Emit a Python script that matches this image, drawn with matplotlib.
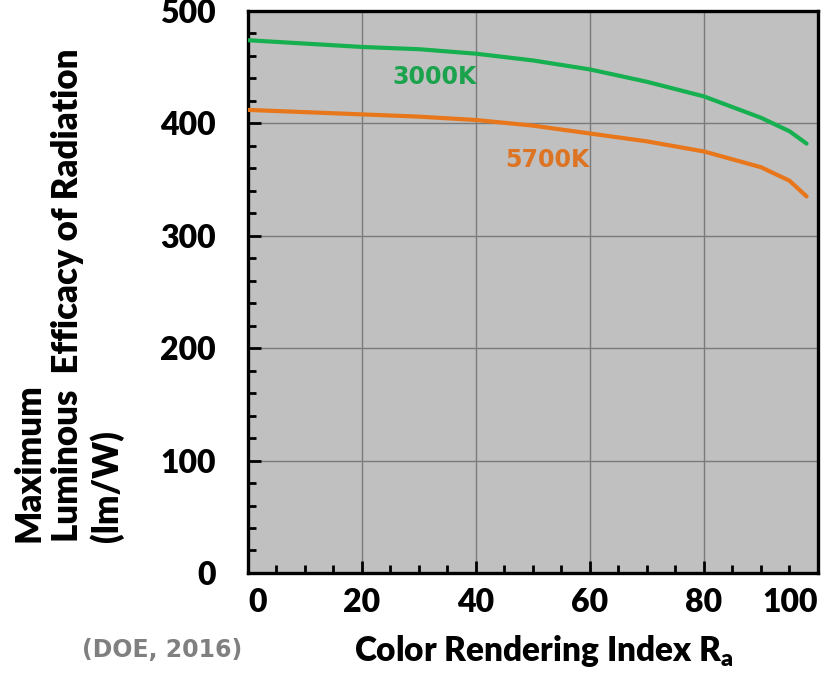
import matplotlib
matplotlib.use('Agg')
import matplotlib.pyplot as plt
from matplotlib.ticker import MultipleLocator

plt.rcParams['font.family'] = ['Lato', 'DejaVu Sans']
plt.rcParams['font.weight'] = 'heavy'
plt.rcParams['mathtext.fontset'] = 'custom'
plt.rcParams['mathtext.bf'] = 'Lato:heavy'
plt.rcParams['mathtext.rm'] = 'Lato:heavy'

# Colour rendering index vs. maximum luminous efficacy (lm/W)
cri = [0, 10, 20, 30, 40, 50, 60, 70, 80, 90, 95, 98]
eff_3000k = [474, 471, 468, 466, 462, 456, 448, 437, 424, 405, 393, 382]
eff_5700k = [412, 410, 408, 406, 403, 398, 391, 384, 375, 361, 349, 335]

labels = ['3000K', '5700K']
label_pos = [(32.8, 441), (52.6, 367)]
colors = ['#16b050', '#e8761a']
text_colors = ['#1ba24c', '#dc7424']

fig = plt.figure(figsize=(8.25, 6.74), dpi=100)
ax = fig.add_axes([0.3006, 0.1499, 0.6909, 0.8338])
ax.set_facecolor('#c0c0c0')

for y, c in zip([eff_3000k, eff_5700k], colors):
    ax.plot(cri, y, color=c, lw=3.0, solid_capstyle='round', zorder=3)
for lab, (x, y), c in zip(labels, label_pos, text_colors):
    ax.text(x, y, lab, color=c, fontsize=17, fontweight='bold',
            family='DejaVu Sans', ha='center', va='center', zorder=4)

ax.set_xlim(0, 100)
ax.set_ylim(0, 500)
ax.set_xticks(range(0, 101, 20))
ax.set_yticks(range(0, 501, 100))
ax.xaxis.set_minor_locator(MultipleLocator(5))
ax.yaxis.set_minor_locator(MultipleLocator(20))
ax.grid(True, which='major', color='#7a7a7a', lw=1.0, zorder=1)
ax.set_axisbelow(True)

ax.tick_params(which='both', direction='in', top=False, right=False,
               width=2, color='black')
ax.tick_params(which='major', length=9, labelsize=23)
ax.tick_params(axis='y', which='major', pad=23)
ax.tick_params(axis='x', which='major', pad=11)
ax.tick_params(which='minor', length=6)

for lbl in ax.get_xticklabels() + ax.get_yticklabels():
    lbl.set_fontweight('heavy')
xl = ax.get_xticklabels()
xl[0].set_horizontalalignment('left')
xl[-1].set_horizontalalignment('right')

for side in ['left', 'bottom', 'top', 'right']:
    ax.spines[side].set_linewidth(2.4)
    ax.spines[side].set_color('black')

fig.text(0.659, 0.034, r'Color Rendering Index R$_\mathbf{a}$',
         fontsize=24, fontweight='heavy', ha='center', va='center')
fig.text(0.196, 0.036, '(DOE, 2016)', fontsize=17, fontweight='bold',
         color='#808080', ha='center', va='center', family='DejaVu Sans')
fig.text(0.083, 0.196, 'Maximum\nLuminous  Efficacy of Radiation\n(lm/W)',
         rotation=90, fontsize=25, fontweight='heavy', ha='center',
         va='bottom', multialignment='left', linespacing=1.2)

fig.savefig('out.png', dpi=100)
